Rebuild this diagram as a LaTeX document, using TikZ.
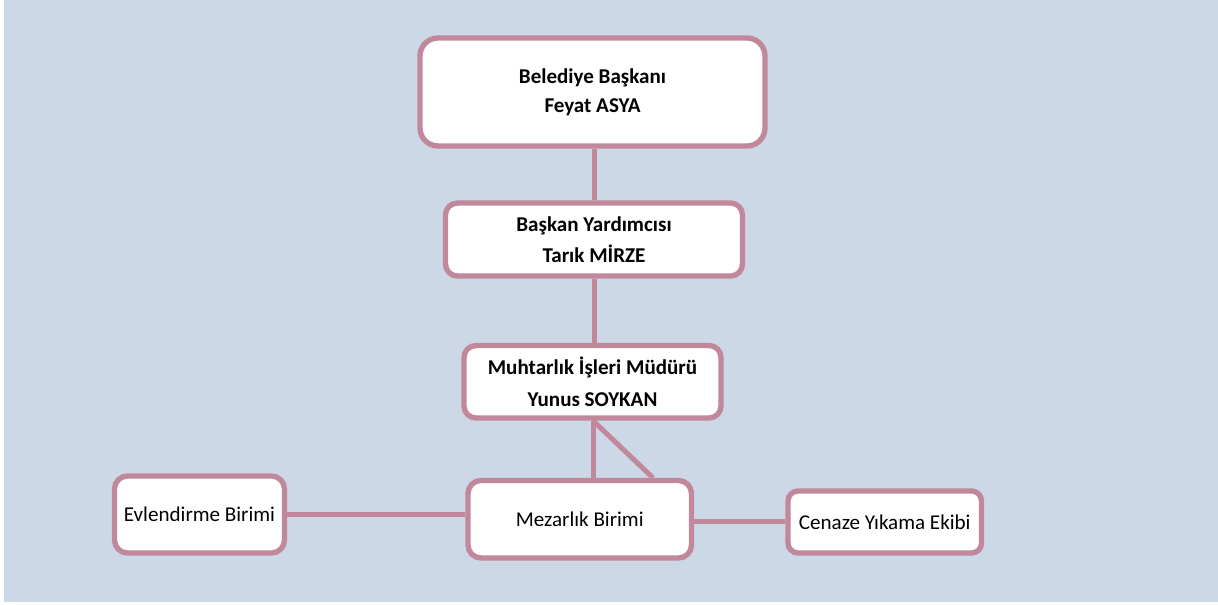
\documentclass[tikz,border=0pt]{standalone}
\usepackage{fontspec}
\setmainfont{Carlito}
\usetikzlibrary{calc}
\definecolor{pagebg}{RGB}{204,216,230}
\definecolor{frame}{RGB}{192,136,154}
\tikzset{
  unitbox/.style={draw=frame, line width=4pt, fill=white, inner sep=0pt,
    align=center, text=black},
  headbox/.style={unitbox, font={\fontsize{15.8}{21.5}\selectfont\bfseries}},
  midbox/.style={unitbox, font={\fontsize{15.8}{23.5}\selectfont\bfseries}},
  plainbox/.style={unitbox, font={\fontsize{15.8}{21}\selectfont}},
  link/.style={draw=frame, line width=3.75pt}
}
\begin{document}
\begin{tikzpicture}[x=0.75pt,y=-0.75pt]
  \useasboundingbox (0,0) rectangle (1218,605);
  \fill[pagebg] (4,0) rectangle (1218,602);

  % hierarchy
  \node[headbox, minimum width={345*0.75pt}, minimum height={108*0.75pt},
        rounded corners={18*0.75pt}] (mayor) at (592.5,92)
        {Belediye Başkanı\\Feyat ASYA};
  \node[midbox, minimum width={297*0.75pt}, minimum height={73*0.75pt},
        rounded corners={12*0.75pt}] (deputy) at (594,239.5)
        {Başkan Yardımcısı\\Tarık MİRZE};
  \node[midbox, minimum width={257*0.75pt}, minimum height={72.5*0.75pt},
        rounded corners={12*0.75pt}] (director) at (592.5,381.75)
        {Muhtarlık İşleri Müdürü\\Yunus SOYKAN};

  % units
  \node[plainbox, minimum width={223.5*0.75pt}, minimum height={77.5*0.75pt},
        rounded corners={13*0.75pt}] (cemetery) at (579.75,519.25)
        {Mezarlık Birimi};
  \node[plainbox, minimum width={170*0.75pt}, minimum height={77*0.75pt},
        rounded corners={13*0.75pt}] (marriage) at (199.5,514.5)
        {Evlendirme Birimi};
  \node[plainbox, minimum width={193.5*0.75pt}, minimum height={62*0.75pt},
        rounded corners={10*0.75pt}] (funeral) at (884.75,522)
        {Cenaze Yıkama Ekibi};

  % connectors
  \draw[link] (deputy.north |- mayor.south) -- (deputy.north);
  \draw[link] (deputy.south) -- (deputy.south |- director.north);
  \draw[link] (director.south -| 593,0) -- (cemetery.north -| 593,0);
  \draw[link] (director.south -| 593,0) -- ($(cemetery.north west)!0.82!(cemetery.north east)$);
  \draw[link] (marriage.east) -- (marriage.east -| cemetery.west);
  \draw[link] (funeral.west) -- (funeral.west -| cemetery.east);
\end{tikzpicture}
\end{document}
